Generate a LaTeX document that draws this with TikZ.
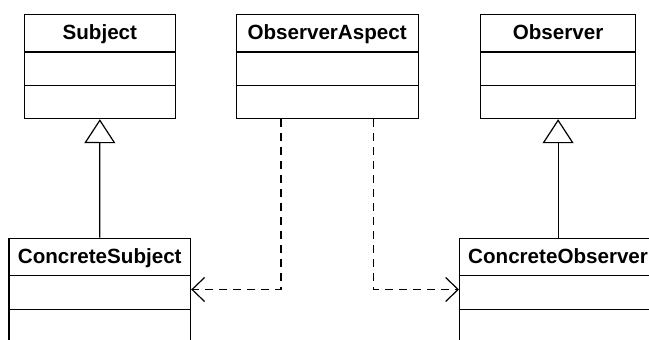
\documentclass[tikz,border=0pt]{standalone}
\usepackage{fontspec}
\setmainfont{Liberation Sans}
\usetikzlibrary{arrows.meta,calc}

\tikzset{
  classbox/.style={draw, rectangle, inner sep=0pt, minimum height=104pt,
    anchor=north west},
  classtitle/.style={anchor=base, inner sep=0pt,
    font=\fontsize{20.6}{24}\selectfont\bfseries},
  inherit/.style={-{Triangle[open, length=24pt, width=31pt, fill=white]}},
  depend/.style={dash pattern=on 8pt off 6pt,
    -{Straight Barb[length=12.5pt, width=24pt]}},
}

% UML class box: name, left, top, width, title
\newcommand\umlclass[5]{%
  \node[classbox, minimum width=#4] (#1) at (#2,#3) {};
  \node[classtitle] (#1-t) at ([yshift=-25.6pt]#1.north) {#5};
  \draw ([yshift=-38pt]#1.north west) -- ([yshift=-38pt]#1.north east);
  \draw ([yshift=-71.8pt]#1.north west) -- ([yshift=-71.8pt]#1.north east);
}

\begin{document}
\begin{tikzpicture}[x=1pt, y=-1pt, line width=1.2pt]
  \useasboundingbox (0,0) rectangle (649,340);
  \clip (0,0) rectangle (649,340);

  \umlclass{subj}{23.5}{14}{151.5}{Subject}
  \umlclass{oa}{235.5}{14}{182}{ObserverAspect}
  \umlclass{obs}{480}{14}{155}{Observer}
  \umlclass{cs}{8.3}{237.7}{181.7}{ConcreteSubject}
  \umlclass{co}{459}{237.7}{197}{ConcreteObserver}

  % generalisation
  \draw[inherit] (cs.north) -- (subj.south);
  \draw[inherit] (co.north) -- (obs.south);

  % aspect dependencies
  \coordinate (oaL) at ([xshift=45.5pt]oa.south west);
  \coordinate (oaR) at ([xshift=-45.6pt]oa.south east);
  \coordinate (csIn) at (cs.east |- 0,289.5);
  \coordinate (coIn) at (co.west |- 0,289.5);
  \draw[depend] (oaL) |- (csIn);
  \draw[depend] (oaR) |- (coIn);
\end{tikzpicture}
\end{document}
